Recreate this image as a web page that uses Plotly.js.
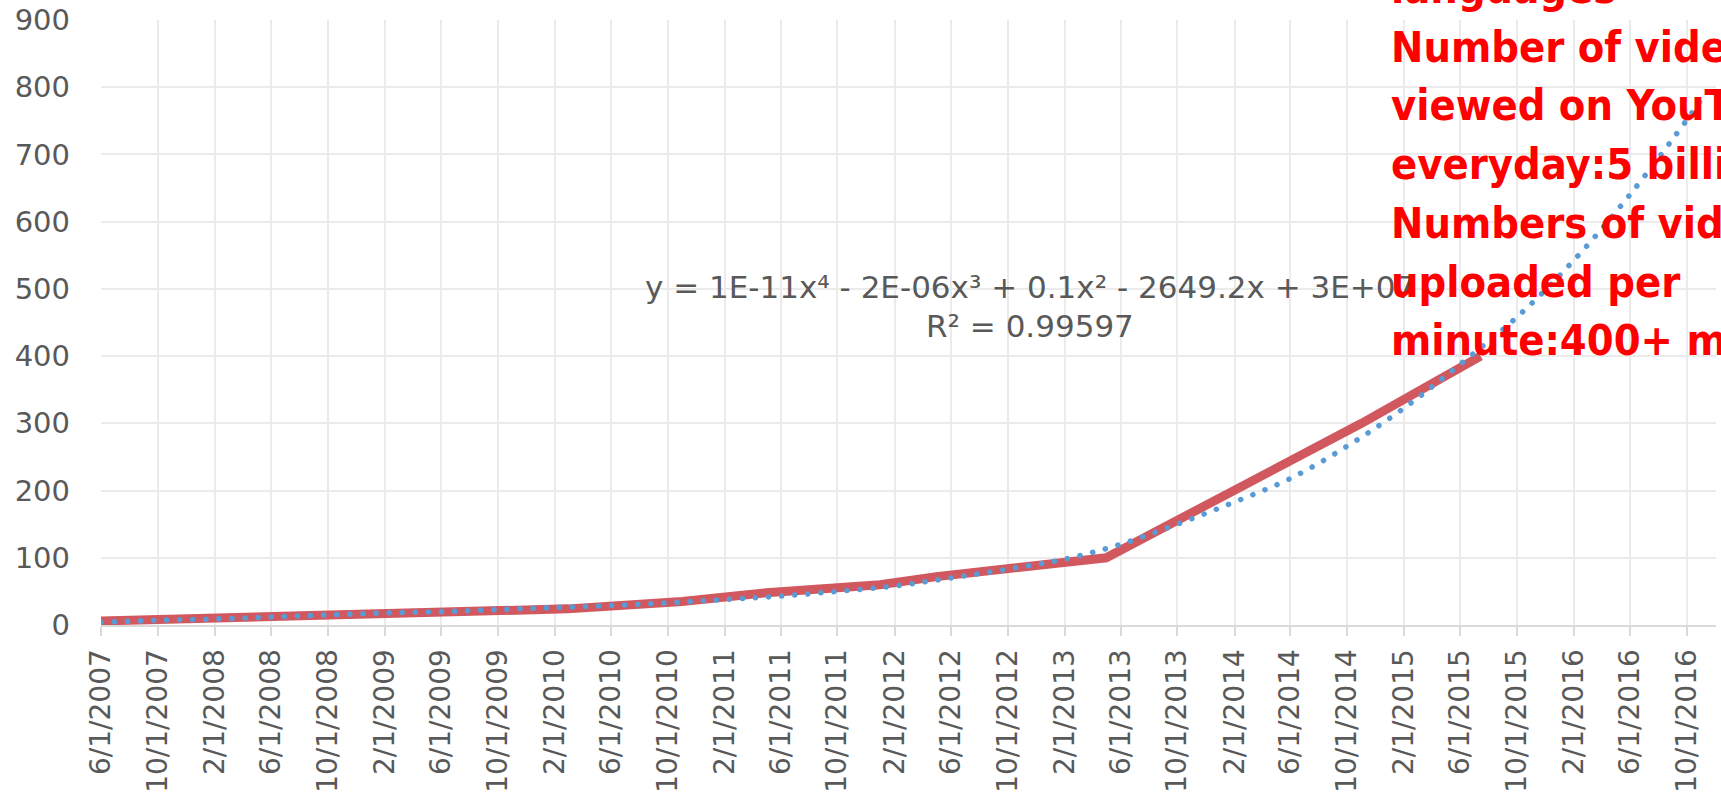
<!DOCTYPE html>
<html>
<head>
<meta charset="utf-8">
<script src="https://cdn.plot.ly/plotly-3.0.1.min.js"></script>
<style>
  html, body { margin: 0; padding: 0; background: #ffffff; }
  #chart { width: 1721px; height: 793px; }
  .scatterlayer .trace:last-child path.js-line { stroke-linecap: round; }
</style>
</head>
<body>
<div id="chart"></div>
<script>
// ---- data ----
const dates = ['2007-06-01','2009-01-01','2009-05-01','2010-03-01','2010-11-01',
               '2011-05-01','2012-01-01','2012-05-01','2013-05-01','2014-11-01','2015-07-15'];
const hoursPerMinute = [6, 15, 20, 24, 35, 48, 60, 72, 100, 300, 400];

// polynomial (order 4) trendline with forward forecast
const trendDates = ['2007-06-01','2007-10-01','2008-02-01','2008-06-01','2008-10-01',
                    '2009-02-01','2009-06-01','2009-10-01','2010-02-01','2010-06-01',
                    '2010-10-01','2011-02-01','2011-06-01','2011-10-01','2012-02-01',
                    '2012-06-01','2012-10-01','2013-02-01','2013-06-01','2013-10-01',
                    '2014-02-01','2014-06-01','2014-10-01','2015-02-01','2015-06-01',
                    '2015-10-01','2016-02-01','2016-06-01','2016-10-01','2016-11-10'];
const trendValues = [4, 7, 9, 12, 15, 18, 20, 23, 26, 29,
                     33, 38, 43, 50, 58, 70, 83, 98, 120, 150,
                     183, 218, 266, 323, 388, 458, 543, 641, 752, 791];

const xRange = ['2007-06-01', '2016-12-02'];
const yRange = [0, 900];
const equationLines = ['y = 1E-11x\u2074 - 2E-06x\u00b3 + 0.1x\u00b2 - 2649.2x + 3E+07', 'R\u00b2 = 0.99597'];
const noteLines = ['languages', 'Number of videos', 'viewed on YouTube', 'everyday:5 billion',
                   'Numbers of videos', 'uploaded per', 'minute:400+ mins'];

// ---- layout geometry ----
const W = 1721, H = 793;
const M = {l: 101, r: 5, t: 20, b: 168};
const plotW = W - M.l - M.r, plotH = H - M.t - M.b;
const px2paperX = x => (x - M.l) / plotW;
const px2paperY = y => (H - M.b - y) / plotH;

const gray = '#595959';
const tickFontFamily = 'DejaVu Sans, Verdana, sans-serif';
const annotations = [];
const eqY = [287, 326];
equationLines.forEach((txt, i) => annotations.push({
  xref: 'paper', yref: 'paper', x: px2paperX(1030), y: px2paperY(eqY[i]),
  xanchor: 'center', yanchor: 'middle', showarrow: false, text: txt,
  font: {family: tickFontFamily, size: 31, color: gray}
}));
const noteTop = -12, noteStep = 58.7;
noteLines.forEach((txt, i) => annotations.push({
  xref: 'paper', yref: 'paper', x: px2paperX(1389), y: px2paperY(noteTop + i * noteStep),
  xanchor: 'left', yanchor: 'middle', showarrow: false, text: txt,
  font: {family: 'DejaVu Sans Condensed, Liberation Sans, Arial, sans-serif', size: 43,
         color: '#ff0000', weight: 'bold'}
}));

const traces = [
  {
    x: dates, y: hoursPerMinute, type: 'scatter', mode: 'lines',
    line: {color: '#d1585f', width: 9}, hoverinfo: 'skip', showlegend: false
  },
  {
    x: trendDates, y: trendValues, type: 'scatter', mode: 'lines',
    line: {color: '#5b9bd5', width: 5.5, dash: '0.1px,13px', shape: 'spline', smoothing: 1},
    hoverinfo: 'skip', showlegend: false
  }
];

const layout = {
  width: W, height: H,
  margin: M,
  paper_bgcolor: '#ffffff', plot_bgcolor: '#ffffff',
  showlegend: false,
  xaxis: {
    type: 'date', range: xRange,
    tick0: '2007-06-01', dtick: 'M4', tickformat: '%-m/%-d/%Y',
    tickangle: -90,
    tickfont: {family: tickFontFamily, size: 28, color: gray},
    showgrid: true, gridcolor: '#ebebeb', gridwidth: 2,
    showline: true, linecolor: '#d9d9d9', linewidth: 2,
    ticks: 'outside', ticklen: 9, tickwidth: 2, tickcolor: '#d9d9d9',
    ticklabelstandoff: 2,
    zeroline: false, fixedrange: true
  },
  yaxis: {
    range: yRange, dtick: 100, tick0: 0,
    tickfont: {family: tickFontFamily, size: 29, color: gray},
    showgrid: true, gridcolor: '#ebebeb', gridwidth: 2,
    showline: false, zeroline: false, ticks: '',
    ticklabelstandoff: 30, fixedrange: true
  },
  annotations: annotations
};

Plotly.newPlot('chart', traces, layout, {displayModeBar: false, staticPlot: true});
</script>
</body>
</html>
